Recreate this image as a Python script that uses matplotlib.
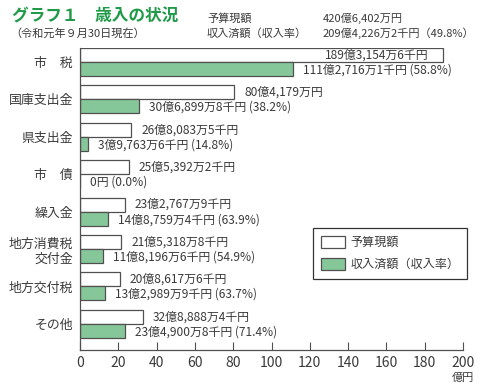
import matplotlib
matplotlib.use('Agg')
import matplotlib.pyplot as plt
from matplotlib.patches import Patch

plt.rcParams['font.family'] = ['Noto Sans CJK JP', 'DejaVu Sans']

# 値は億円単位
categories = ['市　税', '国庫支出金', '県支出金', '市　債', '繰入金', '地方消費税\n交付金', '地方交付税', 'その他']
budget = [189.3155, 80.4179, 26.8084, 25.5392, 23.2768, 21.5319, 20.8618, 32.8888]
received = [111.2716, 30.6900, 3.9764, 0.0, 14.8759, 11.8197, 13.2990, 23.4901]
budget_labels = ['189億3,154万6千円', '80億4,179万円', '26億8,083万5千円', '25億5,392万2千円',
                 '23億2,767万9千円', '21億5,318万8千円', '20億8,617万6千円', '32億8,888万4千円']
received_labels = ['111億2,716万1千円 (58.8%)', '30億6,899万8千円 (38.2%)', '3億9,763万6千円 (14.8%)',
                   '0円 (0.0%)', '14億8,759万4千円 (63.9%)', '11億8,196万6千円 (54.9%)',
                   '13億2,989万9千円 (63.7%)', '23億4,900万8千円 (71.4%)']
x_ticks = [0, 20, 40, 60, 80, 100, 120, 140, 160, 180, 200]

text_color = '#3a3a3a'
green = '#86c79a'
title_green = '#1f9a48'
edge = '#505050'

fig = plt.figure(figsize=(4.94, 3.88), dpi=100)
ax = fig.add_axes([80 / 494, 38 / 388, 383 / 494, 302 / 388])

h = 0.374
ys = list(range(len(categories)))
ax.barh([y - h / 2 for y in ys], budget, height=h, color='white', edgecolor=edge, linewidth=0.9)
ax.barh([y + h / 2 for y in ys], received, height=h, color=green, edgecolor=edge, linewidth=0.9)

for y, v, s in zip(ys, budget, budget_labels):
    if v > 150:
        ax.annotate(s, (v, y - h / 2), xytext=(-14, 0), textcoords='offset pixels',
                    ha='right', va='center', fontsize=8.6, color=text_color)
    else:
        ax.annotate(s, (v, y - h / 2), xytext=(10, 0), textcoords='offset pixels',
                    ha='left', va='center', fontsize=8.6, color=text_color)
for y, v, s in zip(ys, received, received_labels):
    ax.annotate(s, (v, y + h / 2), xytext=(10, -1), textcoords='offset pixels',
                ha='left', va='center', fontsize=8.6, color=text_color)

ax.set_xlim(0, 200)
ax.set_ylim(7.70, -0.374)
ax.set_xticks(x_ticks)
ax.set_yticks(ys)
ax.set_yticklabels(categories)
ax.tick_params(axis='x', direction='in', length=6, width=0.8, color=edge,
               labelsize=10, labelcolor=text_color, pad=4)
ax.tick_params(axis='y', length=0, labelsize=9.3, labelcolor=text_color, pad=5)
for side in ['top', 'right']:
    ax.spines[side].set_visible(False)
for side in ['left', 'bottom']:
    ax.spines[side].set_color(edge)
    ax.spines[side].set_linewidth(0.9)

fig.text(463 / 494, 1 - 378 / 388, '億円', ha='center', va='center', fontsize=8, color=text_color)

# 見出し
fig.text(12 / 494, 1 - 17 / 388, 'グラフ１　歳入の状況', ha='left', va='center',
         fontsize=12, fontweight='bold', color=title_green)
fig.text(10 / 494, 1 - 33 / 388, '（令和元年９月30日現在）', ha='left', va='center',
         fontsize=8, color=text_color)
fig.text(207 / 494, 1 - 18 / 388, '予算現額', ha='left', va='center', fontsize=8, color=text_color)
fig.text(323 / 494, 1 - 18 / 388, '420億6,402万円', ha='left', va='center', fontsize=8, color=text_color)
fig.text(207 / 494, 1 - 33 / 388, '収入済額（収入率）', ha='left', va='center', fontsize=8, color=text_color)
fig.text(323 / 494, 1 - 33 / 388, '209億4,226万2千円（49.8%）', ha='left', va='center',
         fontsize=8, color=text_color)

handles = [Patch(facecolor='white', edgecolor=edge, linewidth=0.9),
           Patch(facecolor=green, edgecolor=edge, linewidth=0.9)]
leg = fig.legend(handles, ['予算現額', '収入済額（収入率）'], loc='upper left',
                 bbox_to_anchor=(313 / 494, 1 - 228 / 388), bbox_transform=fig.transFigure,
                 borderaxespad=0, fancybox=False, edgecolor='#333333', framealpha=1,
                 fontsize=8.7, handlelength=2.0, handleheight=1.1, handletextpad=0.45,
                 borderpad=0.65, labelspacing=0.75)
leg.get_frame().set_linewidth(0.9)
for t in leg.get_texts():
    t.set_color(text_color)

fig.savefig('out.png', dpi=100)
